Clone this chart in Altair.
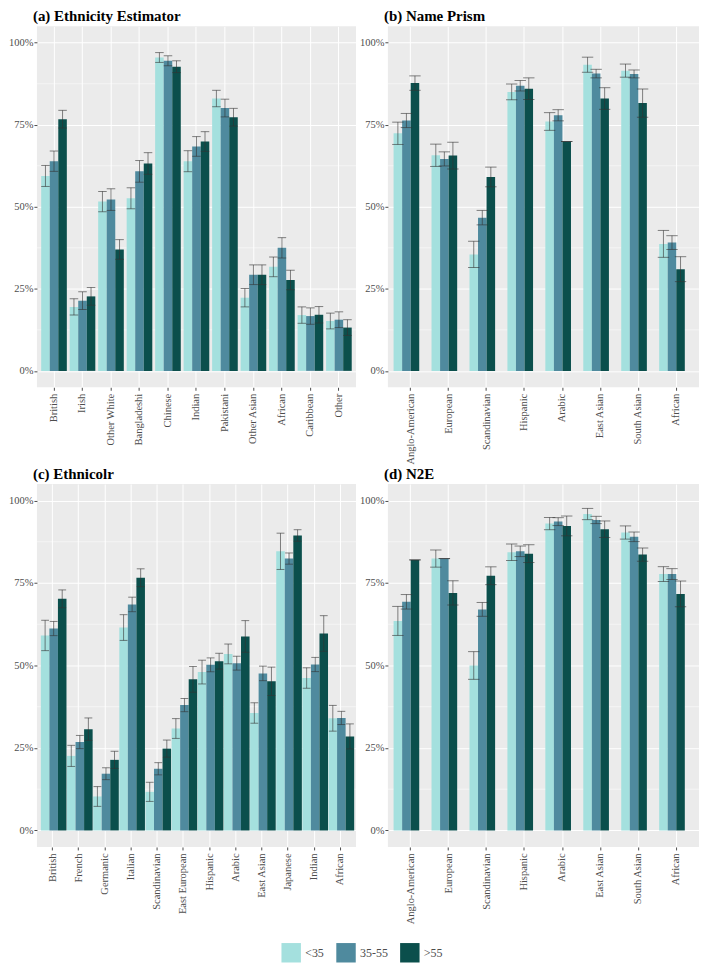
import altair as alt
import pandas as pd

GROUPS = ["<35", "35-55", ">55"]
COLORS = ["#A4E0DE", "#4F8A9E", "#0B4F4C"]

A_title = "(a) Ethnicity Estimator"
A_cats = ["British", "Irish", "Other White", "Bangladeshi", "Chinese", "Indian",
          "Pakistani", "Other Asian", "African", "Caribbean", "Other"]
A_lt35 = [59.4, 19.5, 51.6, 52.6, 95.5, 63.9, 83.0, 22.3, 31.7, 17.0, 15.2]
A_35_55 = [63.9, 21.4, 52.2, 60.8, 94.5, 68.4, 80.1, 29.3, 37.5, 16.7, 15.6]
A_gt55 = [76.7, 22.7, 37.0, 63.2, 92.7, 69.9, 77.3, 29.3, 27.7, 17.1, 13.2]
A_err_lt35 = [3.2, 2.5, 3.1, 3.2, 1.5, 3.2, 2.5, 2.8, 3.0, 2.5, 2.4]
A_err_35_55 = [3.1, 2.7, 3.3, 3.3, 1.5, 3.0, 2.7, 3.0, 3.1, 2.5, 2.4]
A_err_gt55 = [2.7, 2.7, 3.0, 3.3, 1.8, 3.0, 2.7, 3.0, 3.0, 2.5, 2.4]

B_title = "(b) Name Prism"
B_cats = ["Anglo-American", "European", "Scandinavian", "Hispanic", "Arabic",
          "East Asian", "South Asian", "African"]
B_lt35 = [72.4, 65.7, 35.5, 85.0, 76.0, 93.3, 91.5, 38.7]
B_35_55 = [76.3, 64.6, 46.7, 86.9, 77.9, 90.6, 90.5, 39.1]
B_gt55 = [87.7, 65.6, 59.1, 86.0, 69.9, 83.0, 81.6, 31.0]
B_err_lt35 = [3.4, 3.4, 4.0, 2.4, 2.7, 2.3, 2.0, 4.1]
B_err_35_55 = [2.15, 2.15, 2.2, 1.6, 1.7, 1.3, 1.2, 2.1]
B_err_gt55 = [2.2, 4.1, 3.0, 3.3, 0.0, 3.3, 4.3, 3.8]

C_title = "(c) Ethnicolr"
C_cats = ["British", "French", "Germanic", "Italian", "Scandinavian", "East European",
          "Hispanic", "Arabic", "East Asian", "Japanese", "Indian", "African"]
C_lt35 = [59.1, 22.6, 10.3, 61.5, 11.7, 30.9, 48.0, 53.5, 35.6, 84.6, 46.2, 34.0]
C_35_55 = [61.2, 26.8, 17.2, 68.5, 18.7, 38.0, 50.2, 50.7, 47.6, 82.4, 50.3, 34.1]
C_gt55 = [70.2, 30.7, 21.4, 76.6, 24.8, 45.8, 51.3, 58.8, 45.2, 89.4, 59.7, 28.5]
C_err_lt35 = [4.6, 3.2, 3.0, 3.9, 2.9, 3.0, 3.6, 3.0, 3.1, 5.5, 3.1, 3.9]
C_err_35_55 = [2.15, 2.0, 1.8, 2.2, 1.85, 2.0, 2.1, 2.1, 2.2, 1.7, 2.15, 2.0]
C_err_gt55 = [2.7, 3.4, 2.6, 2.7, 2.6, 3.9, 2.4, 4.8, 4.3, 1.75, 5.4, 3.8]

D_title = "(d) N2E"
D_cats = ["Anglo-American", "European", "Scandinavian", "Hispanic", "Arabic",
          "East Asian", "South Asian", "African"]
D_lt35 = [63.5, 82.4, 50.0, 84.3, 93.0, 95.9, 90.3, 77.7]
D_35_55 = [69.3, 82.4, 67.0, 84.6, 93.6, 94.1, 89.0, 77.7]
D_gt55 = [82.0, 72.0, 77.2, 83.9, 92.3, 91.3, 83.6, 71.7]
D_err_lt35 = [4.4, 2.6, 4.2, 2.5, 1.85, 1.7, 2.0, 2.25]
D_err_35_55 = [2.2, 0.0, 2.1, 1.6, 1.2, 1.1, 1.45, 1.65]
D_err_gt55 = [0.0, 3.7, 2.7, 2.7, 3.0, 2.5, 2.0, 3.9]

Y_TICKS = [0, 0.25, 0.5, 0.75, 1.0]
Y_MINOR = [0.125, 0.375, 0.625, 0.875]

SERIF = "Liberation Serif"


def panel(title, cats, series, errs, w, h):
    rows = []
    for i, c in enumerate(cats):
        for g, vals, es in zip(GROUPS, series, errs):
            v = vals[i] / 100.0
            e = es[i] / 100.0
            rows.append({"cat": c, "group": g, "value": v, "lo": v - e, "hi": v + e})
    df = pd.DataFrame(rows)
    n = len(cats)
    step = w / (n + 0.2)
    bw = step * 0.9 / 3.0

    yscale = alt.Scale(domain=[-0.05, 1.05], nice=False, zero=False)
    yaxis = alt.Axis(title=None, format=".0%", values=Y_TICKS,
                     labelFontSize=10.5, labelPadding=1)
    x = alt.X("cat:N", sort=cats,
              scale=alt.Scale(paddingInner=0.1, paddingOuter=0.15),
              axis=alt.Axis(title=None, labelAngle=-90, labelAlign="right",
                            labelBaseline="middle", labelPadding=3,
                            labelFontSize=10.5, labelLimit=200))
    xo = alt.XOffset("group:N", sort=GROUPS,
                     scale=alt.Scale(domain=GROUPS, paddingInner=0, paddingOuter=0))

    minor = alt.Chart(pd.DataFrame({"m": Y_MINOR})).mark_rule(
        color="white", strokeWidth=0.5).encode(
        y=alt.Y("m:Q", scale=yscale, axis=yaxis))

    base = alt.Chart(df)
    bars = base.mark_bar().encode(
        x=x, xOffset=xo,
        y=alt.Y("value:Q", scale=yscale, axis=yaxis),
        y2=alt.datum(0),
        color=alt.Color("group:N", sort=GROUPS,
                        scale=alt.Scale(domain=GROUPS, range=COLORS),
                        legend=alt.Legend(title=None, orient="none",
                                          legendX=245, legendY=919,
                                          direction="horizontal")),
    )
    rules = base.mark_rule(color="#333333", opacity=0.6, strokeWidth=1).encode(
        x=x, xOffset=xo, y=alt.Y("lo:Q", scale=yscale, axis=yaxis), y2="hi:Q")
    cap_lo = base.mark_tick(color="#333333", opacity=0.6, thickness=1, size=bw).encode(
        x=x, xOffset=xo, y=alt.Y("lo:Q", scale=yscale, axis=yaxis))
    cap_hi = base.mark_tick(color="#333333", opacity=0.6, thickness=1, size=bw).encode(
        x=x, xOffset=xo, y=alt.Y("hi:Q", scale=yscale, axis=yaxis))

    return alt.layer(minor, bars, rules, cap_lo, cap_hi).properties(
        width=w, height=h,
        title=alt.TitleParams(title, anchor="start", frame="group", font=SERIF,
                              fontSize=15, fontWeight="bold", color="black",
                              offset=2, dx=-4),
    )


pa = panel(A_title, A_cats, [A_lt35, A_35_55, A_gt55],
           [A_err_lt35, A_err_35_55, A_err_gt55], 320, 362)
pb = panel(B_title, B_cats, [B_lt35, B_35_55, B_gt55],
           [B_err_lt35, B_err_35_55, B_err_gt55], 312, 362)
pc = panel(C_title, C_cats, [C_lt35, C_35_55, C_gt55],
           [C_err_lt35, C_err_35_55, C_err_gt55], 320, 364)
pd_ = panel(D_title, D_cats, [D_lt35, D_35_55, D_gt55],
            [D_err_lt35, D_err_35_55, D_err_gt55], 312, 364)

chart = alt.vconcat(
    alt.hconcat(pa, pb, spacing=2),
    alt.hconcat(pc, pd_, spacing=2),
    spacing=2,
).properties(
    padding=0
).configure_view(
    fill="#EBEBEB", stroke=None
).configure_axis(
    grid=True, gridColor="white", gridWidth=1, domain=False,
    labelFont=SERIF, labelColor="#4D4D4D", tickColor="#4D4D4D", tickSize=3,
).configure_legend(
    symbolType="square", symbolSize=380,
    symbolStrokeWidth=0, labelFont=SERIF, labelFontSize=12, labelColor="#4D4D4D",
    columnPadding=12, padding=0,
)

chart.save("out.html", embed_options={"renderer": "svg", "actions": False})
